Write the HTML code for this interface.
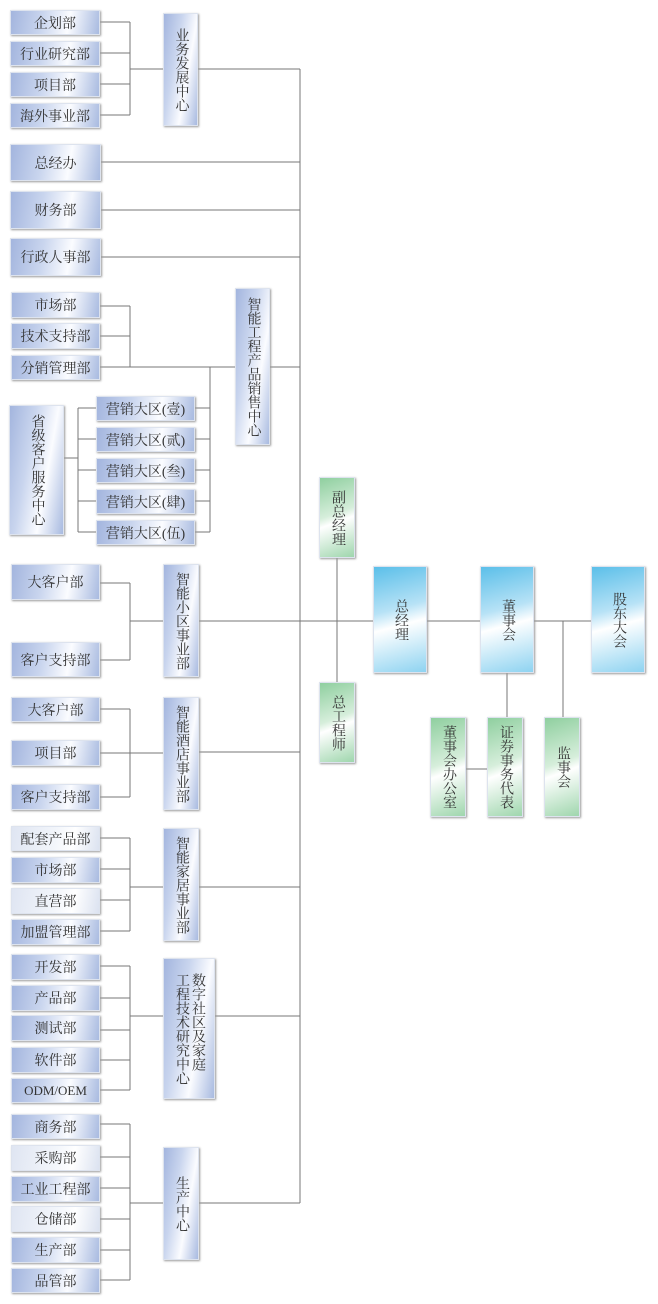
<!DOCTYPE html>
<html><head><meta charset="utf-8"><style>
body{margin:0;width:658px;height:1304px;background:#fff;position:relative;overflow:hidden;font-family:"Liberation Serif","Noto Serif CJK SC",serif;color:#333}
.b{position:absolute;box-sizing:border-box;display:flex;align-items:center;justify-content:center;font-size:14px;background:linear-gradient(100deg,#a3b5de 0%,#c9d5ee 35%,#fbfcff 65%,#a8bae0 100%);box-shadow:1px 1px 2px #999;border:1px solid #dde3ee;white-space:nowrap}
.l{background:linear-gradient(100deg,#dfe5f2 0%,#f3f6fb 50%,#fff 70%,#dbe2f0 100%)}
.v{writing-mode:vertical-rl;line-height:16px;letter-spacing:0}
.g{background:linear-gradient(160deg,#8fcf9f 0%,#d6eedb 45%,#fff 55%,#9fd6ad 100%)}
.s{background:linear-gradient(165deg,#5bbfe9 0%,#b7e2f6 40%,#fff 55%,#8ed3f1 100%)}
svg{position:absolute;left:0;top:0}
</style></head><body>
<svg width="658" height="1304"><g stroke="#777" stroke-width="1" fill="none">
<path d="M300 69V1203"/>
<path d="M100 22H130M100 53H130M100 84H130M100 115H130M130 22V115M130 69H163M198 69H300"/>
<path d="M101 162H300M101 210H300M101 257H300"/>
<path d="M100 306H130M100 336H130M130 306V367M100 367H235M270 367H300"/>
<path d="M195 408H210M195 439H210M195 470H210M195 501H210M195 532H210M210 367V532"/>
<path d="M64 458H78M78 408V532M78 408H96M78 439H96M78 470H96M78 501H96M78 532H96"/>
<path d="M100 583H130M100 660H130M130 583V660M130 621H163M199 621H373M427 621H480M534 621H591"/>
<path d="M337 558V682M507 673V717M563 621V717M466 769H487"/>
<path d="M100 709H130M100 753H163M100 797H130M130 709V797M199 752H300"/>
<path d="M100 838H130M100 869H130M100 900H130M100 931H130M130 838V931M130 887H163M199 887H300"/>
<path d="M100 966H130M100 998H130M100 1030H130M100 1060H130M100 1090H130M130 966V1090M130 1016H163M215 1016H300"/>
<path d="M100 1124H130M100 1157H130M100 1188H130M100 1219H130M100 1250H130M100 1280H130M130 1124V1280M130 1203H163M199 1203H300"/>
</g></svg>

<div class="b" style="left:10px;top:10px;width:90px;height:25px">企划部</div>
<div class="b" style="left:10px;top:41px;width:90px;height:25px">行业研究部</div>
<div class="b" style="left:10px;top:72px;width:90px;height:25px">项目部</div>
<div class="b" style="left:10px;top:103px;width:90px;height:25px">海外事业部</div>
<div class="b v" style="left:163px;top:13px;width:35px;height:113px">业务发展中心</div>

<div class="b" style="left:10px;top:144px;width:91px;height:37px">总经办</div>
<div class="b" style="left:10px;top:191px;width:91px;height:38px">财务部</div>
<div class="b" style="left:10px;top:238px;width:91px;height:38px">行政人事部</div>

<div class="b" style="left:11px;top:292px;width:89px;height:26px">市场部</div>
<div class="b" style="left:11px;top:323px;width:89px;height:26px">技术支持部</div>
<div class="b" style="left:11px;top:355px;width:89px;height:25px">分销管理部</div>
<div class="b v" style="left:235px;top:288px;width:35px;height:157px">智能工程产品销售中心</div>
<div class="b v" style="left:9px;top:405px;width:55px;height:130px">省级客户服务中心</div>
<div class="b" style="left:96px;top:396px;width:99px;height:25px">营销大区(壹)</div>
<div class="b" style="left:96px;top:427px;width:99px;height:25px">营销大区(贰)</div>
<div class="b" style="left:96px;top:458px;width:99px;height:25px">营销大区(叁)</div>
<div class="b" style="left:96px;top:489px;width:99px;height:25px">营销大区(肆)</div>
<div class="b" style="left:96px;top:520px;width:99px;height:25px">营销大区(伍)</div>

<div class="b" style="left:11px;top:564px;width:89px;height:36px">大客户部</div>
<div class="b" style="left:11px;top:642px;width:89px;height:35px">客户支持部</div>
<div class="b v" style="left:163px;top:564px;width:36px;height:113px">智能小区事业部</div>

<div class="b" style="left:11px;top:697px;width:89px;height:25px">大客户部</div>
<div class="b" style="left:11px;top:740px;width:89px;height:26px">项目部</div>
<div class="b" style="left:11px;top:784px;width:89px;height:26px">客户支持部</div>
<div class="b v" style="left:163px;top:697px;width:36px;height:113px">智能酒店事业部</div>

<div class="b l" style="left:11px;top:826px;width:89px;height:25px">配套产品部</div>
<div class="b" style="left:11px;top:857px;width:89px;height:26px">市场部</div>
<div class="b l" style="left:11px;top:888px;width:89px;height:26px">直营部</div>
<div class="b" style="left:11px;top:919px;width:89px;height:26px">加盟管理部</div>
<div class="b v" style="left:163px;top:828px;width:36px;height:113px">智能家居事业部</div>

<div class="b" style="left:11px;top:954px;width:89px;height:26px">开发部</div>
<div class="b" style="left:11px;top:985px;width:89px;height:26px">产品部</div>
<div class="b" style="left:11px;top:1015px;width:89px;height:26px">测试部</div>
<div class="b" style="left:11px;top:1047px;width:89px;height:26px">软件部</div>
<div class="b" style="left:11px;top:1078px;width:89px;height:25px;font-size:13px">ODM/OEM</div>
<div class="b v" style="left:163px;top:958px;width:52px;height:141px">数字社区及家庭<br>工程技术研究中心</div>

<div class="b" style="left:11px;top:1114px;width:89px;height:25px">商务部</div>
<div class="b l" style="left:11px;top:1145px;width:89px;height:26px">采购部</div>
<div class="b" style="left:11px;top:1176px;width:89px;height:26px">工业工程部</div>
<div class="b l" style="left:11px;top:1206px;width:89px;height:26px">仓储部</div>
<div class="b" style="left:11px;top:1237px;width:89px;height:26px">生产部</div>
<div class="b" style="left:11px;top:1268px;width:89px;height:25px">品管部</div>
<div class="b v" style="left:163px;top:1147px;width:36px;height:113px">生产中心</div>

<div class="b v g" style="left:319px;top:477px;width:36px;height:81px">副总经理</div>
<div class="b v g" style="left:319px;top:682px;width:36px;height:81px">总工程师</div>
<div class="b v s" style="left:373px;top:566px;width:54px;height:107px">总经理</div>
<div class="b v s" style="left:480px;top:566px;width:54px;height:107px">董事会</div>
<div class="b v s" style="left:591px;top:566px;width:54px;height:107px">股东大会</div>
<div class="b v g" style="left:430px;top:717px;width:36px;height:100px">董事会办公室</div>
<div class="b v g" style="left:487px;top:717px;width:36px;height:100px">证券事务代表</div>
<div class="b v g" style="left:544px;top:717px;width:36px;height:100px">监事会</div>
</body></html>
